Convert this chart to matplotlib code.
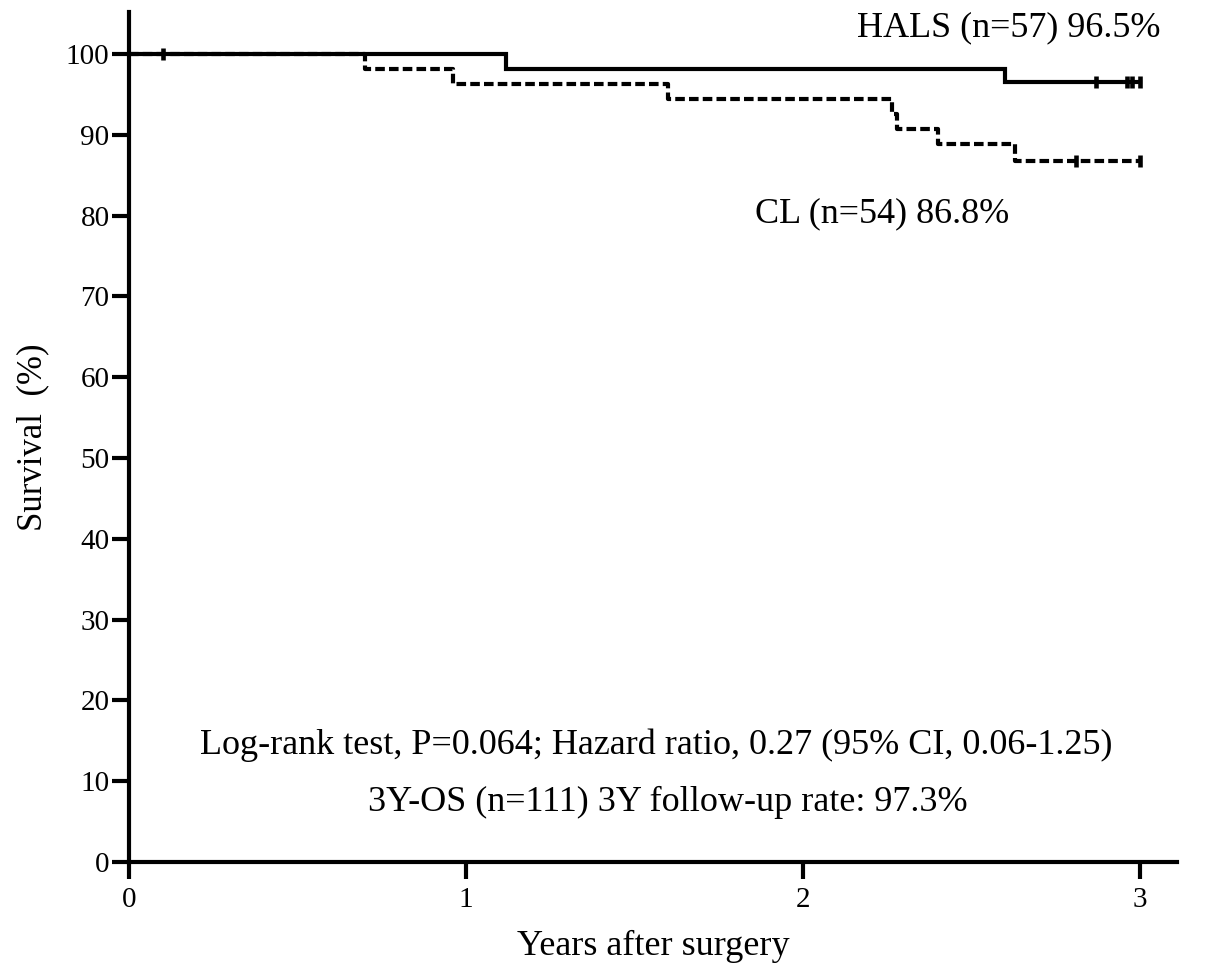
import matplotlib
matplotlib.use("Agg")
import matplotlib.pyplot as plt

# HALS Kaplan-Meier step curve
hals_t = [0.0, 1.12, 2.60, 3.0]
hals_s = [100.0, 98.2, 96.5, 96.5]
hals_cens_t = [0.10, 2.87, 2.96, 2.975, 3.0]
hals_cens_s = [100.0, 96.5, 96.5, 96.5, 96.5]

# CL Kaplan-Meier step curve
cl_t = [0.0, 0.70, 0.96, 1.60, 2.265, 2.28, 2.40, 2.63, 3.0]
cl_s = [100.0, 98.1, 96.3, 94.4, 92.6, 90.7, 88.9, 86.8, 86.8]
cl_cens_t = [2.81, 3.0]
cl_cens_s = [86.8, 86.8]

x_ticks = [0, 1, 2, 3]
y_ticks = list(range(0, 101, 10))

plt.rcParams['font.family'] = ['Liberation Serif', 'DejaVu Serif']

fig = plt.figure(figsize=(12.05, 9.72), dpi=100)
ax = fig.add_axes([129/1205, 1-862/972, (1177-129)/1205, (862-12)/972])

ax.step(hals_t, hals_s, where='post', color='black', lw=3.0, solid_joinstyle='miter')
ax.step(cl_t, cl_s, where='post', color='black', lw=3.0, linestyle=(0, (2.3, 1.0)))
ax.plot(hals_cens_t, hals_cens_s, linestyle='none', marker='|', color='black',
        markersize=9, markeredgewidth=3.3)
ax.plot(cl_cens_t, cl_cens_s, linestyle='none', marker='|', color='black',
        markersize=9, markeredgewidth=3.3)

ax.set_xlim(0, (1177-129)/337)
ax.set_ylim(0, 100 + (54-12)/8.08)
ax.set_xticks(x_ticks)
ax.set_yticks(y_ticks)
ax.tick_params(axis='both', direction='out', width=3, length=12, labelsize=21)
ax.tick_params(axis='y', pad=2)
ax.tick_params(axis='x', pad=6)
for s in ['top', 'right']:
    ax.spines[s].set_visible(False)
for s in ['left', 'bottom']:
    ax.spines[s].set_linewidth(3)

ax.set_xlabel('Years after surgery', fontsize=26, labelpad=12)
ax.set_ylabel('Survival  (%)', fontsize=25, labelpad=12)

fs = 26
ax.text(3.06, 103.3, 'HALS (n=57) 96.5%', fontsize=fs, ha='right', va='center')
ax.text(1.857, 80.2, 'CL (n=54) 86.8%', fontsize=fs, ha='left', va='center')
ax.text(1.564, 14.4, 'Log-rank test, P=0.064; Hazard ratio, 0.27 (95% CI, 0.06-1.25)',
        fontsize=fs, ha='center', va='center')
ax.text(1.60, 7.4, '3Y-OS (n=111) 3Y follow-up rate: 97.3%', fontsize=fs,
        ha='center', va='center')

fig.savefig('out.png', dpi=100)
